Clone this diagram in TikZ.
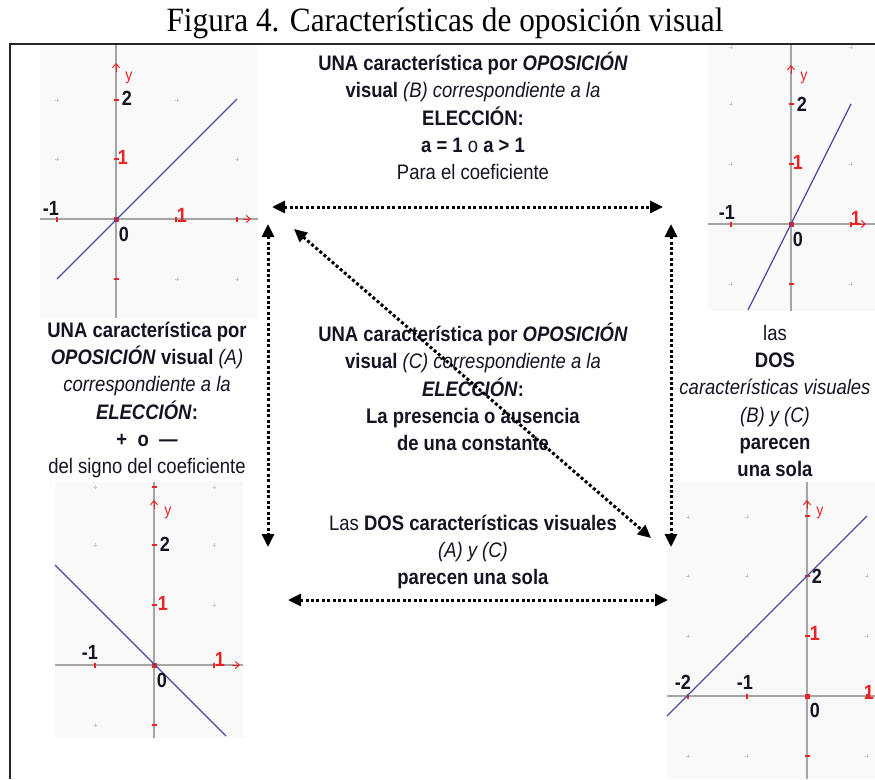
\documentclass[tikz,border=0pt]{standalone}
\usepackage{fontspec}
\setmainfont{Liberation Serif}
\newfontfamily\ar[FakeStretch=0.88]{Liberation Sans}
\newfontfamily\tit[FakeStretch=0.92]{Liberation Serif}
\usetikzlibrary{arrows.meta}
\definecolor{axgray}{RGB}{165,165,165}
\definecolor{lineblue}{RGB}{75,75,165}
\definecolor{bggray}{RGB}{249,249,249}
\definecolor{tickred}{RGB}{235,35,35}
\definecolor{dotgray}{RGB}{205,205,205}
\definecolor{txt}{RGB}{20,20,35}
\tikzset{
 blk/.style={font=\ar\fontsize{21}{27.3}\selectfont, align=center, inner sep=0pt, text=txt},
 dotarrow/.style={line width=3pt, dash pattern=on 3pt off 2.4pt, {Triangle[length=13pt,width=12pt]}-{Triangle[length=13pt,width=12pt]}},
 axis/.style={axgray, line width=1.8pt},
 fn/.style={lineblue, line width=1.2pt},
 tk/.style={tickred, line width=1.6pt},
 lbl/.style={font=\ar\bfseries\fontsize{20.5}{20.5}\selectfont, text=txt, inner sep=0pt},
 rlbl/.style={font=\ar\bfseries\fontsize{20.5}{20.5}\selectfont, text=tickred, inner sep=0pt},
 ylbl/.style={font=\ar\fontsize{16}{16}\selectfont, text=tickred, inner sep=0pt},
 bgbox/.style={fill=bggray, draw=none},
 axarr/.style={tickred, line width=1pt, -{Straight Barb[length=4pt,width=7pt]}},
 gdot/.style={dotgray, line width=0.9pt},
}
\newcommand\gdot[2]{\draw[gdot] (#1,#2) ++(-2.2,0) -- ++(4.4,0) (#1,#2) ++(0,-2.2) -- ++(0,4.4);}
\newcommand\xtick[2]{\draw[tk] (#1,#2) ++(0,-2.5) -- ++(0,5);}
\newcommand\ytick[2]{\draw[tk] (#1,#2) ++(-2.5,0) -- ++(5,0);}
\begin{document}
\begin{tikzpicture}[x=1pt,y=-1pt]
\useasboundingbox (0,0) rectangle (875,779);
\fill[white] (0,0) rectangle (875,779);

% title
\node[font=\tit\fontsize{34}{36}\selectfont, inner sep=0pt] (title) at (445,23) {Figura 4. Características de oposición visual};

% ---------- graph 1 (top left) ----------
\fill[bgbox] (40,46) rectangle (258,318);
\gdot{57}{100}\gdot{177}{100}\gdot{57}{159}\gdot{237}{159}\gdot{177}{279}\gdot{237}{279}
\draw[axis] (40,219) -- (258,219);
\draw[axis] (116,44) -- (116,318);
\xtick{57}{219}\xtick{176}{219}\xtick{237}{219}
\ytick{116}{100}\ytick{116}{159}\ytick{116}{279}
\fill[tickred] (113.5,216.5) rectangle (118.5,221.5);
\draw[axarr] (243,219) -- (251,219);
\draw[axarr] (116,72) -- (116,63);
\draw[fn] (57,279) -- (237,99);
\node[ylbl] (g1y) at (129,78) {y};
\node[lbl] (g1two) at (127,98) {2};
\node[rlbl] (g1oney) at (123,157) {1};
\node[lbl] (g1m1) at (51,208) {-1};
\node[rlbl] (g1onex) at (182,215) {1};
\node[lbl] (g1zero) at (124,234) {0};

% ---------- graph 2 (top right) ----------
\fill[bgbox] (708,45) rectangle (875,311);
\gdot{731}{47}\gdot{851}{47}\gdot{731}{104}\gdot{731}{164}\gdot{851}{164}\gdot{731}{284}\gdot{851}{284}
\draw[axis] (708,224) -- (875,224);
\draw[axis] (791,44) -- (791,311);
\xtick{731}{224}\xtick{851}{224}
\ytick{791}{104}\ytick{791}{164}\ytick{791}{284}
\fill[tickred] (788.5,221.5) rectangle (793.5,226.5);
\draw[axarr] (858,224) -- (866,224);
\draw[axarr] (791,74) -- (791,65);
\draw[fn] (748,310) -- (851,104);
\node[ylbl] (g2y) at (804,78) {y};
\node[lbl] (g2two) at (802,104) {2};
\node[rlbl] (g2oney) at (798,162) {1};
\node[lbl] (g2m1) at (727,212) {-1};
\node[rlbl] (g2onex) at (856,218) {1};
\node[lbl] (g2zero) at (798,239) {0};

% ---------- graph 3 (bottom left) ----------
\fill[bgbox] (55,482) rectangle (243,738);
\gdot{95}{487}\gdot{214}{487}\gdot{95}{545}\gdot{214}{545}\gdot{214}{605}\gdot{95}{725}
\draw[axis] (55,665) -- (243,665);
\draw[axis] (154,482) -- (154,738);
\xtick{95}{665}\xtick{214}{665}
\ytick{154}{487}\ytick{154}{545}\ytick{154}{605}\ytick{154}{725}
\fill[tickred] (151.5,662.5) rectangle (156.5,667.5);
\draw[axarr] (232,665) -- (240,665);
\draw[axarr] (154,509) -- (154,500);
\draw[fn] (55,565) -- (226,736);
\node[ylbl] (g3y) at (168,513) {y};
\node[lbl] (g3two) at (165,544) {2};
\node[rlbl] (g3oney) at (163,603) {1};
\node[lbl] (g3m1) at (90,652) {-1};
\node[rlbl] (g3onex) at (220,659) {1};
\node[lbl] (g3zero) at (162,680) {0};

% ---------- graph 4 (bottom right) ----------
\fill[bgbox] (667,482) rectangle (875,779);
\gdot{688}{517}\gdot{747}{517}\gdot{688}{576}\gdot{747}{576}\gdot{867}{576}
\gdot{688}{636}\gdot{747}{636}\gdot{867}{636}\gdot{688}{756}\gdot{747}{756}\gdot{867}{756}
\draw[axis] (667,696) -- (875,696);
\draw[axis] (807,482) -- (807,779);
\xtick{688}{696}\xtick{747}{696}\xtick{867}{696}
\ytick{807}{516}\ytick{807}{576}\ytick{807}{636}\ytick{807}{756}
\fill[tickred] (804.5,693.5) rectangle (809.5,698.5);
\draw[axarr] (807,509) -- (807,500);
\draw[fn] (667,716) -- (867,516);
\node[ylbl] (g4y) at (820,513) {y};
\node[lbl] (g4two) at (817,576) {2};
\node[rlbl] (g4oney) at (815,633) {1};
\node[lbl] (g4m2) at (683,682) {-2};
\node[lbl] (g4m1) at (745,682) {-1};
\node[lbl] (g4zero) at (815,710) {0};
\node[rlbl] (g4onex) at (869,692) {1};

% frame
\draw[line width=1.3pt, black!85] (10,779) -- (10,44) -- (875,44);

% ---------- text blocks ----------
\node[blk] (top) at (473,116) {\textbf{UNA característica por \textit{OPOSICIÓN}}\\
\textbf{visual} \textit{(B) correspondiente a la}\\
\textbf{ELECCIÓN:}\\
\textbf{a = 1} o \textbf{a > 1}\\
Para el coeficiente};

\node[blk] (left) at (147,400) {\textbf{UNA característica por}\\
\textbf{\textit{OPOSICIÓN} visual} \textit{(A)}\\
\textit{correspondiente a la}\\
\textbf{\textit{ELECCIÓN}:}\\
\textbf{+\ \ o\ \ —}\\
del signo del coeficiente};

\node[blk] (mid) at (473,387) {\textbf{UNA característica por \textit{OPOSICIÓN}}\\
\textbf{visual} \textit{(C) correspondiente a la}\\
\textbf{\textit{ELECCIÓN}:}\\
\textbf{La presencia o ausencia}\\
\textbf{de una constante}};

\node[blk] (right) at (775,401) {las\\
\textbf{DOS}\\
\textit{características visuales}\\
\textit{(B) y (C)}\\
\textbf{parecen}\\
\textbf{una sola}};

\node[blk] (bottom) at (473,552) {Las \textbf{DOS características visuales}\\
\textit{(A) y (C)}\\
\textbf{parecen una sola}};

% ---------- dotted arrows ----------
\coordinate (tA) at (272,207);
\coordinate (tB) at (663,207);
\coordinate (lA) at (268,224);
\coordinate (lB) at (268,547);
\coordinate (rA) at (671,224);
\coordinate (rB) at (671,547);
\coordinate (dA) at (294,229);
\coordinate (dB) at (651,538);
\coordinate (bA) at (288,600);
\coordinate (bB) at (668,600);
\draw[dotarrow] (tA) -- (tB);
\draw[dotarrow] (lA) -- (lB);
\draw[dotarrow] (rA) -- (rB);
\draw[dotarrow] (dA) -- (dB);
\draw[dotarrow] (bA) -- (bB);
\end{tikzpicture}
\end{document}
